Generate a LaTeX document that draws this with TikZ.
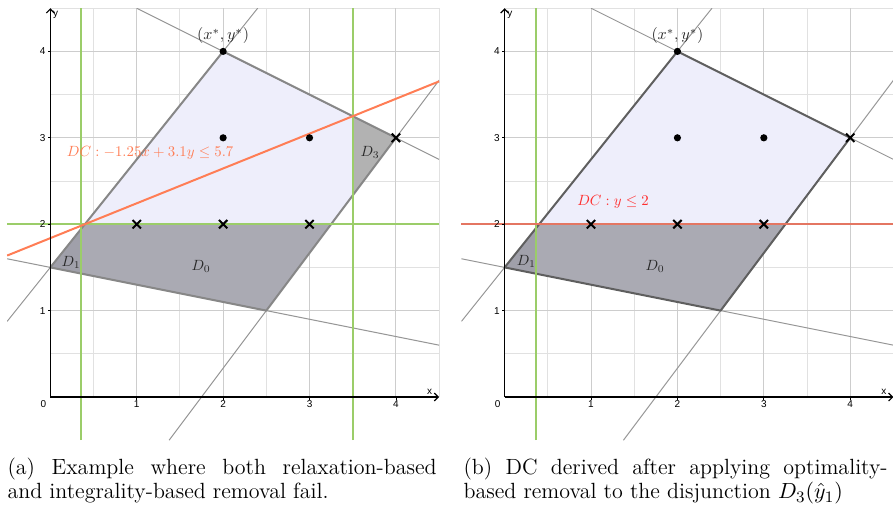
\documentclass[tikz,border=0pt]{standalone}
\usepackage{fontspec}
\newfontfamily\ggbfont{Liberation Sans}
\usetikzlibrary{arrows.meta}
\definecolor{lav}{RGB}{238,238,251}
\definecolor{dreg}{RGB}{170,170,179}
\definecolor{dregone}{RGB}{160,160,170}
\definecolor{dthree}{RGB}{178,178,178}
\definecolor{ggreen}{RGB}{155,205,105}
\definecolor{dcorange}{RGB}{255,125,85}
\definecolor{dcline}{RGB}{228,118,98}
\definecolor{dctext}{RGB}{255,45,45}
\definecolor{gridmaj}{RGB}{205,205,205}
\definecolor{gridmin}{RGB}{225,225,225}
\definecolor{extline}{RGB}{150,150,150}
\definecolor{edgeA}{RGB}{135,135,135}
\definecolor{edgeB}{RGB}{95,95,95}
\definecolor{lbl}{RGB}{40,40,40}
\newcommand{\dlab}[1]{\scalebox{0.74}{$#1$}}
\newcommand{\plab}[1]{\scalebox{0.8}{$#1$}}
\newcommand{\dclab}[1]{\scalebox{0.74}{$#1$}}
\tikzset{
  gridminst/.style={gridmin, line width=0.5pt},
  gridmajst/.style={gridmaj, line width=0.5pt},
  extst/.style={extline, line width=0.5pt},
  greenst/.style={ggreen, line width=1pt},
  axisst/.style={black, line width=0.6pt, -{Straight Barb[length=2pt,width=4pt]}},
  ticklbl/.style={font=\ggbfont\fontsize{5}{6}\selectfont, inner sep=0pt},
  dlbl/.style={text=lbl, inner sep=0pt},
  dotst/.style={fill=black},
  crs/.pic={\draw[line width=1pt] (-2.1pt,-2.1pt)--(2.1pt,2.1pt) (-2.1pt,2.1pt)--(2.1pt,-2.1pt);},
  capst/.style={anchor=north west, inner sep=0pt, align=justify, font=\fontsize{11}{12.2}\selectfont}
}
\begin{document}
\begin{tikzpicture}[x=1.518cm,y=1.518cm]
\useasboundingbox (-0.5825,-1.296) rectangle (9.753,4.595);
% ================= LEFT PANEL =================
\begin{scope}
  \draw[gridminst] (0,0) grid[step=0.5] (4.5,4.5);
  \draw[gridmajst] (0,0) grid[step=1] (4.5,4.5);
  \fill[lav] (0,1.5)--(2,4)--(4,3)--(2.5,1)--cycle;
  \fill[dreg] (0,1.5)--(0.4,2)--(3.25,2)--(2.5,1)--cycle;
  \fill[dregone] (0,1.5)--(0.36,1.95)--(0.36,1.428)--cycle;
  \fill[dthree] (3.5,3.25)--(4,3)--(3.5,2.3333)--cycle;
  \begin{scope}
    \clip (-0.5,-0.5) rectangle (4.5,4.5);
    \draw[extst] (-0.5,0.875)--(2.4,4.5);
    \draw[extst] (1,4.5)--(4.5,2.75);
    \draw[extst] (1.375,-0.5)--(4.5,3.6667);
    \draw[extst] (-0.5,1.6)--(4.5,0.6);
  \end{scope}
  \draw[edgeA, line width=1pt, line join=round] (0,1.5)--(2,4)--(4,3)--(2.5,1)--cycle;
  \draw[greenst] (0.36,-0.5)--(0.36,4.5);
  \draw[greenst] (3.5,-0.5)--(3.5,4.5);
  \draw[greenst] (-0.5,2)--(4.5,2);
  \draw[dcorange, line width=1pt] (-0.5,1.6371)--(4.5,3.6532);
  \draw[axisst] (0,0)--(4.5,0);
  \draw[axisst] (0,0)--(0,4.5);
  \foreach \t in {1,2,3,4} {
    \draw[black, line width=0.4pt] (\t,0)--(\t,-0.03);
    \draw[black, line width=0.4pt] (0,\t)--(-0.03,\t);
    \node[ticklbl] (lxt\t) at (\t,-0.085) {\t};
    \node[ticklbl] (lyt\t) at (-0.09,\t) {\t};
  }
  \node[ticklbl] (lz) at (-0.08,-0.085) {0};
  \node[ticklbl] (lxl) at (4.39,0.06) {x};
  \node[ticklbl] (lyl) at (0.06,4.42) {y};
  \fill[dotst] (2,3) circle (1.8pt);
  \fill[dotst] (3,3) circle (1.8pt);
  \fill[dotst] (2,4) circle (1.8pt);
  \pic at (1,2) {crs};
  \pic at (2,2) {crs};
  \pic at (3,2) {crs};
  \pic at (4,3) {crs};
  \node[dlbl] (lopt) at (2,4.18) {\plab{(x^*,y^*)}};
  \node[dlbl, text=dcorange] (ldc) at (1.155,2.82) {\dclab{DC: -1.25x+3.1y\leq 5.7}};
  \node[dlbl] (ld3) at (3.70,2.83) {\dlab{D_3}};
  \node[dlbl] (ld1) at (0.24,1.56) {\dlab{D_1}};
  \node[dlbl] (ld0) at (1.745,1.51) {\dlab{D_0}};
  \node[capst, text width=7.54cm] (capa) at (-0.5,-0.70)
    {(a) Example where both relaxation-based\linebreak and integrality-based removal fail.};
\end{scope}
% ================= RIGHT PANEL =================
\begin{scope}[shift={(5.258,0)}]
  \draw[gridminst] (0,0) grid[step=0.5] (4.5,4.5);
  \draw[gridmajst] (0,0) grid[step=1] (4.5,4.5);
  \fill[lav] (0,1.5)--(2,4)--(4,3)--(2.5,1)--cycle;
  \fill[dreg] (0,1.5)--(0.4,2)--(3.25,2)--(2.5,1)--cycle;
  \fill[dregone] (0,1.5)--(0.36,1.95)--(0.36,1.428)--cycle;
  \begin{scope}
    \clip (-0.5,-0.5) rectangle (4.5,4.5);
    \draw[extst] (-0.5,0.875)--(2.4,4.5);
    \draw[extst] (1,4.5)--(4.5,2.75);
    \draw[extst] (1.375,-0.5)--(4.5,3.6667);
    \draw[extst] (-0.5,1.6)--(4.5,0.6);
  \end{scope}
  \draw[edgeB, line width=1pt, line join=round] (0,1.5)--(2,4)--(4,3)--(2.5,1)--cycle;
  \draw[greenst] (0.36,-0.5)--(0.36,4.5);
  \draw[dcline, line width=1.1pt] (-0.5,2)--(4.5,2);
  \draw[axisst] (0,0)--(4.5,0);
  \draw[axisst] (0,0)--(0,4.5);
  \foreach \t in {1,2,3,4} {
    \draw[black, line width=0.4pt] (\t,0)--(\t,-0.03);
    \draw[black, line width=0.4pt] (0,\t)--(-0.03,\t);
    \node[ticklbl] (rxt\t) at (\t,-0.085) {\t};
    \node[ticklbl] (ryt\t) at (-0.09,\t) {\t};
  }
  \node[ticklbl] (rz) at (-0.08,-0.085) {0};
  \node[ticklbl] (rxl) at (4.39,0.06) {x};
  \node[ticklbl] (ryl) at (0.06,4.42) {y};
  \fill[dotst] (2,3) circle (1.8pt);
  \fill[dotst] (3,3) circle (1.8pt);
  \fill[dotst] (2,4) circle (1.8pt);
  \pic at (1,2) {crs};
  \pic at (2,2) {crs};
  \pic at (3,2) {crs};
  \pic at (4,3) {crs};
  \node[dlbl] (ropt) at (2,4.18) {\plab{(x^*,y^*)}};
  \node[dlbl, text=dctext] (rdc) at (1.255,2.26) {\dclab{DC: y\leq 2}};
  \node[dlbl] (rd1) at (0.25,1.57) {\dlab{D_1}};
  \node[dlbl] (rd0) at (1.74,1.51) {\dlab{D_0}};
  \node[capst, text width=7.45cm] (capb) at (-0.48,-0.70)
    {(b) DC derived after applying optimality-\linebreak based removal to the disjunction $D_3(\hat{y}_1)$};
\end{scope}
\end{tikzpicture}
\end{document}
